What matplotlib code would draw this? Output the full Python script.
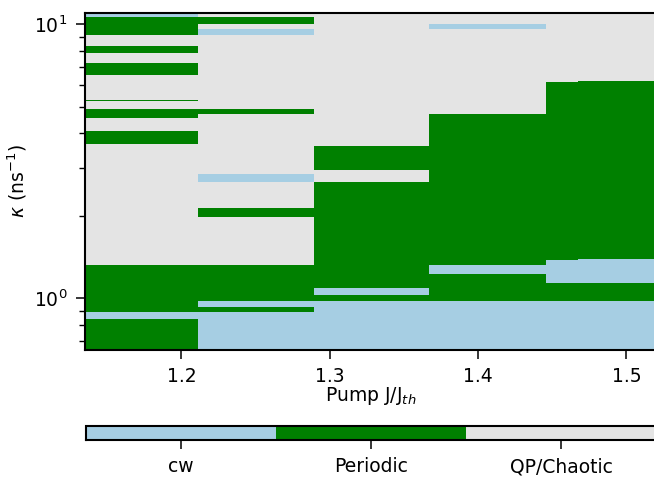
import matplotlib
matplotlib.use('Agg')
import matplotlib.pyplot as plt
from matplotlib.colors import ListedColormap, Normalize
from matplotlib.ticker import NullFormatter
import numpy as np

# dynamical state codes: 0 = cw, 1 = periodic, 2 = QP/chaotic
state_names = ["cw", "Periodic", "QP/Chaotic"]
state_colors = ["#a6cee3", "#008000", "#e4e4e4"]

# pump column edges (J/Jth)
pump_edges = [1.135, 1.2112, 1.2894, 1.3672, 1.4457, 1.4674, 1.52]

# kappa boundaries (ns^-1) and states for each pump column, bottom to top
kappa_c1 = [0.647, 0.84, 0.891, 1.327, 3.65, 4.09, 4.53, 4.90, 5.25, 5.30,
            6.53, 7.21, 7.88, 8.31, 9.12, 10.63, 11.04]
state_c1 = [1, 0, 1, 2, 1, 2, 1, 2, 1, 2, 1, 2, 1, 2, 1, 0]

kappa_c2 = [0.647, 0.891, 0.925, 0.975, 1.327, 1.975, 2.14, 2.66, 2.84,
            4.72, 4.90, 9.12, 9.65, 10.0, 10.63, 11.04]
state_c2 = [0, 1, 0, 1, 2, 1, 2, 0, 2, 1, 2, 0, 2, 1, 2]

kappa_c3 = [0.647, 0.975, 1.025, 1.085, 2.66, 2.93, 3.60, 11.04]
state_c3 = [0, 1, 0, 1, 2, 1, 2]

kappa_c4 = [0.647, 0.975, 1.224, 1.32, 4.72, 9.65, 10.0, 11.04]
state_c4 = [0, 1, 0, 1, 2, 0, 2]

kappa_c5 = [0.647, 0.975, 1.137, 1.384, 6.18, 11.04]
state_c5 = [0, 1, 0, 1, 2]

kappa_c6 = [0.647, 0.975, 1.137, 1.396, 6.19, 11.04]
state_c6 = [0, 1, 0, 1, 2]

columns = [(kappa_c1, state_c1), (kappa_c2, state_c2), (kappa_c3, state_c3),
           (kappa_c4, state_c4), (kappa_c5, state_c5), (kappa_c6, state_c6)]

# common kappa grid from all boundaries
kappa_edges = np.unique(np.concatenate([c[0] for c in columns]))
kappa_mid = np.sqrt(kappa_edges[:-1] * kappa_edges[1:])
Z = np.zeros((len(kappa_mid), len(columns)))
for j, (bounds, states) in enumerate(columns):
    idx = np.searchsorted(bounds, kappa_mid) - 1
    Z[:, j] = np.array(states)[idx]

cmap = ListedColormap(state_colors)
norm = Normalize(vmin=-0.5, vmax=2.5)

plt.rcParams['font.size'] = 13.5
plt.rcParams['mathtext.default'] = 'it'

fig = plt.figure(figsize=(6.54, 4.78), dpi=100)
ax = fig.add_axes([85 / 654, 128 / 478, 571 / 654, 337.5 / 478])
mesh = ax.pcolormesh(pump_edges, kappa_edges, Z, cmap=cmap, norm=norm,
                     antialiased=False)
ax.set_yscale('log')
ax.set_xlim(pump_edges[0], pump_edges[-1])
ax.set_ylim(kappa_edges[0], kappa_edges[-1])
ax.set_xticks([1.2, 1.3, 1.4, 1.5])
ax.yaxis.set_minor_formatter(NullFormatter())
ax.tick_params(which='major', length=6.5, width=1.1, pad=6)
ax.tick_params(which='minor', length=4.2, width=1.0)
for s in ax.spines.values():
    s.set_linewidth(1.5)
ax.set_xlabel('Pump J/J$_{th}$', labelpad=-1)
ax.set_ylabel(r'$\kappa$ (ns$^{-1}$)', labelpad=4)

cax = fig.add_axes([86 / 654, 38 / 478, 570 / 654, 14.3 / 478])
cb = fig.colorbar(mesh, cax=cax, orientation='horizontal', ticks=[0, 1, 2])
cb.ax.set_xticklabels(state_names)
cb.ax.tick_params(length=6.5, width=1.1, pad=6)
cb.outline.set_linewidth(1.5)

fig.savefig('out.png', dpi=100)
